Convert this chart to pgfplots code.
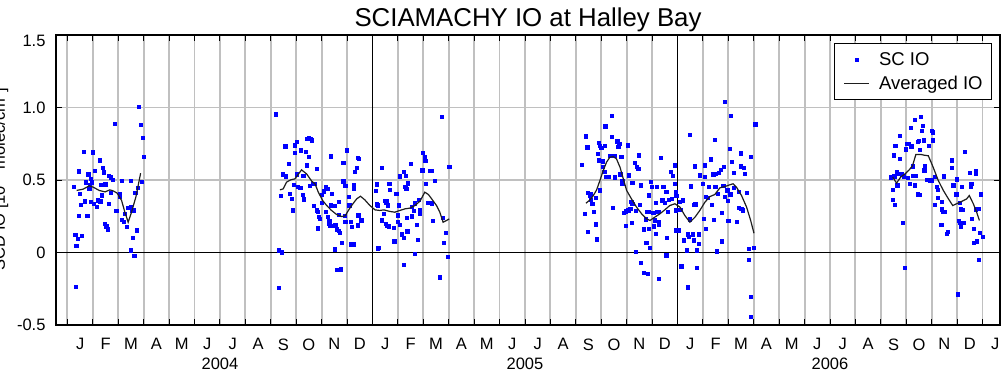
\documentclass[border=0pt]{standalone}
\usepackage{pgfplots}
\pgfplotsset{compat=1.18}
\usepackage{fontspec}
\setmainfont{Liberation Sans}
\definecolor{gridgray}{RGB}{192,192,192}
\definecolor{ptblue}{RGB}{0,0,255}
\definecolor{avgline}{RGB}{30,30,30}
\pgfplotsset{
  dotlegend/.style={legend image code/.code={\draw[##1] plot coordinates {(12.5pt,0pt)};}},
  linelegend/.style={legend image code/.code={\draw[##1] (0pt,0pt) -- (25pt,0pt);}},
}
\begin{document}
\begin{tikzpicture}
\begin{axis}[
  at={(56pt,59pt)}, anchor=south west,
  scale only axis, width=944pt, height=290pt,
  xmin=-0.45, xmax=36.69, ymin=-0.5, ymax=1.5,
  clip mode=individual,
  xtick={0,...,36}, xticklabels={},
  extra x ticks={0.5,1.5,...,36.5},
  extra x tick labels={J,F,M,A,M,J,J,A,S,O,N,D,J,F,M,A,M,J,J,A,S,O,N,D,J,F,M,A,M,J,J,A,S,O,N,D,J},
  extra x tick style={grid=none, major tick length=0pt},
  ytick={-0.5,0,0.5,1,1.5}, yticklabels={-0.5,0,0.5,1.0,\raisebox{-6pt}[\height][\depth]{1.5}},
  grid=major, major grid style={gridgray, line width=1.9pt},
  tick pos=both, tick align=inside, major tick length=6pt,
  tick style={black, line width=0.9pt},
  axis line style={black, line width=1.3pt},
  tick label style={font=\fontsize{16.5}{19}\selectfont},
  /pgf/number format/assume math mode=true,
  yticklabel style={xshift=-7pt},
  xticklabel style={yshift=-10pt},
  legend style={at={(0.9915,0.9724)}, anchor=north east, draw=black, line width=0.8pt,
    font=\fontsize{18.5}{21}\selectfont, inner xsep=9pt, inner ysep=9pt, row sep=9pt,
    nodes={inner sep=0pt},
    /tikz/every odd column/.append style={column sep=9pt}},
  legend cell align=left,
]
\draw[black, line width=1.6pt] (axis cs:12,-0.5) -- (axis cs:12,1.5);
\draw[black, line width=1.6pt] (axis cs:24,-0.5) -- (axis cs:24,1.5);
\draw[black, line width=1.6pt] (axis cs:-0.45,0) -- (axis cs:36.69,0);

\addplot[only marks, mark=square*, mark size=1.6pt, mark options={fill=ptblue, draw=ptblue, line width=0pt}, dotlegend] coordinates {
(2.81,1.005) (1.88,0.887) (2.88,0.881) (2.97,0.788) (3.02,0.66) (0.65,0.694) (0.99,0.694) (1.02,0.69) (1.27,0.634) (0.45,0.559) (1.40,0.581) (1.45,0.552) (1.07,0.563) (0.83,0.538) (1.64,0.526) (1.70,0.517) (1.80,0.499) (2.16,0.492) (2.49,0.492) (2.93,0.487) (0.92,0.506) (0.74,0.483) (0.98,0.483) (0.89,0.464) (1.32,0.464) (1.50,0.469) (0.26,0.453) (0.87,0.439) (0.49,0.402) (1.72,0.409) (2.07,0.402) (2.77,0.446) (2.68,0.409) (1.36,0.393) (0.69,0.352) (0.92,0.347) (1.05,0.333) (1.21,0.359) (1.30,0.352) (1.17,0.312) (0.54,0.326) (1.64,0.336) (2.07,0.381) (1.93,0.285) (2.37,0.306) (2.50,0.312) (2.54,0.29) (2.62,0.29) (2.26,0.267) (0.45,0.25) (0.79,0.25) (2.16,0.225) (2.24,0.209) (2.35,0.177) (1.49,0.198) (1.54,0.179) (1.61,0.159) (2.75,0.152) (2.59,0.101) (0.32,0.119) (0.56,0.115) (0.41,0.094) (0.36,0.046) (2.49,0.014) (2.64,-0.025) (0.35,-0.237)
(8.19,0.952) (14.73,0.933) (8.58,0.731) (8.96,0.738) (9.03,0.763) (9.41,0.784) (9.50,0.788) (9.58,0.782) (9.63,0.772) (9.19,0.703) (9.38,0.694) (8.95,0.687) (9.49,0.657) (10.38,0.662) (11.00,0.703) (11.42,0.651) (11.47,0.644) (8.73,0.611) (9.44,0.60) (9.83,0.575) (10.86,0.618) (11.39,0.582) (11.32,0.554) (8.48,0.538) (8.61,0.524) (9.03,0.538) (9.29,0.526) (12.39,0.584) (13.23,0.556) (13.33,0.526) (13.53,0.611) (14.00,0.687) (14.08,0.657) (14.09,0.632) (13.97,0.565) (14.26,0.561) (14.34,0.563) (13.08,0.524) (14.46,0.492) (15.03,0.588)
(8.90,0.464) (9.08,0.451) (9.17,0.446) (9.54,0.46) (9.65,0.474) (9.74,0.474) (10.18,0.451) (10.26,0.439) (10.10,0.421) (10.0,0.398) (10.42,0.405) (10.86,0.49) (10.94,0.457) (11.28,0.464) (11.27,0.439) (12.19,0.469) (12.14,0.423) (12.67,0.474) (12.70,0.432) (12.95,0.405) (13.30,0.451) (13.41,0.476) (13.34,0.439) (14.10,0.471) (8.39,0.388) (8.75,0.405) (8.83,0.368) (9.28,0.398) (9.32,0.365) (10.03,0.34) (10.37,0.324) (10.68,0.349) (11.09,0.384) (12.48,0.354) (12.52,0.34) (12.61,0.324) (12.58,0.354) (13.04,0.324) (13.67,0.338) (13.84,0.363) (14.20,0.342) (14.34,0.338)
(8.87,0.29) (9.71,0.32) (9.83,0.29) (9.87,0.278) (9.91,0.244) (10.16,0.278) (10.51,0.32) (11.10,0.324) (11.45,0.255) (11.57,0.221) (12.19,0.331) (12.22,0.324) (12.36,0.221) (12.45,0.264) (12.53,0.198) (12.58,0.184) (12.65,0.179) (12.85,0.168) (13.00,0.255) (13.02,0.209) (13.08,0.191) (13.37,0.239) (13.55,0.248) (13.63,0.287) (13.74,0.191) (13.55,0.313) (13.88,0.294) (13.87,0.269) (14.39,0.218) (14.76,0.237) (9.93,0.232) (10.26,0.244) (10.31,0.216) (10.31,0.198) (10.35,0.182) (10.67,0.26) (10.93,0.253) (10.94,0.211) (11.15,0.209) (11.21,0.175) (11.42,0.186) (10.55,0.186) (10.62,0.159) (10.67,0.147) (10.72,0.136) (9.87,0.166) (10.81,0.067) (11.17,0.055) (11.28,0.055) (10.54,0.021) (12.87,0.076) (13.17,0.124) (13.23,0.101) (13.38,0.145) (13.80,0.087) (14.89,0.136) (14.80,0.067) (12.22,0.028) (12.25,0.032) (14.98,-0.032) (8.33,0.014) (8.44,0.0) (13.66,-0.009) (10.62,-0.12) (10.77,-0.117) (13.24,-0.085) (14.65,-0.172) (8.33,-0.244)
(25.87,1.037) (26.10,0.94) (27.07,0.883) (21.41,0.94) (21.17,0.869) (20.40,0.80) (20.46,0.724) (20.92,0.756) (20.96,0.733) (21.01,0.722) (21.41,0.795) (21.16,0.733) (21.64,0.765) (21.72,0.747) (21.68,0.729) (22.04,0.738) (24.49,0.809) (25.49,0.777) (20.87,0.68) (20.90,0.634) (21.08,0.628) (21.34,0.664) (21.45,0.664) (21.54,0.664) (21.80,0.657) (22.50,0.669) (20.23,0.605) (21.08,0.588) (21.13,0.554) (21.21,0.519) (21.30,0.519) (21.55,0.517) (21.76,0.538) (22.09,0.531) (22.34,0.616) (22.40,0.588) (22.47,0.577) (23.34,0.653) (23.89,0.60) (23.75,0.554) (23.81,0.526) (24.69,0.593) (25.07,0.60) (25.32,0.641) (25.07,0.519) (24.90,0.531) (25.42,0.538) (25.51,0.542) (25.62,0.547) (25.72,0.57) (25.83,0.588) (26.06,0.713) (26.15,0.623) (26.21,0.547) (26.50,0.683) (26.51,0.593) (26.61,0.582) (26.67,0.542) (26.88,0.657)
(21.84,0.492) (21.84,0.474) (22.23,0.478) (22.57,0.462) (22.95,0.485) (22.99,0.451) (23.20,0.451) (23.45,0.451) (23.57,0.416) (23.95,0.416) (23.91,0.474) (24.52,0.455) (24.99,0.474) (25.25,0.451) (25.50,0.451) (25.59,0.405) (25.81,0.457) (25.97,0.428) (26.09,0.40) (26.22,0.444) (26.42,0.416) (26.73,0.411) (20.49,0.409) (20.56,0.393) (20.60,0.363) (20.66,0.336) (20.79,0.375) (20.61,0.405) (20.96,0.428) (22.19,0.347) (22.23,0.336) (22.54,0.329) (22.88,0.393) (23.17,0.342) (23.41,0.359) (23.52,0.342) (23.66,0.363) (23.96,0.388) (24.10,0.347) (24.21,0.359) (23.78,0.37) (24.67,0.329) (24.71,0.331) (25.12,0.382) (25.20,0.377) (25.37,0.329) (25.87,0.382) (26.00,0.354) (26.42,0.306) (26.52,0.301) (26.59,0.29)
(20.36,0.267) (20.73,0.278) (21.47,0.306) (21.91,0.274) (21.97,0.283) (22.04,0.29) (22.09,0.29) (22.15,0.301) (22.36,0.285) (22.22,0.205) (21.97,0.182) (22.82,0.278) (22.76,0.228) (22.89,0.278) (23.06,0.271) (23.20,0.278) (23.27,0.278) (23.13,0.221) (23.26,0.209) (23.28,0.191) (23.64,0.278) (23.93,0.29) (24.12,0.294) (24.50,0.228) (25.05,0.232) (25.45,0.225) (25.74,0.271) (26.01,0.216) (26.33,0.209) (20.78,0.193) (20.49,0.14) (20.84,0.09) (22.68,0.159) (22.88,0.163) (23.09,0.179) (23.17,0.129) (23.60,0.101) (23.95,0.152) (24.06,0.152) (24.41,0.124) (24.62,0.124) (24.84,0.124) (25.11,0.163) (24.27,0.083) (24.45,0.106) (24.66,0.083) (24.86,0.06) (25.74,0.076) (22.78,0.067) (22.93,0.03) (24.37,0.014) (24.78,0.014) (22.36,0.002) (25.54,0.007) (26.82,0.025) (27.02,0.03) (23.57,-0.021) (22.55,-0.074) (22.69,-0.14) (22.84,-0.147) (23.28,-0.182) (24.16,-0.097) (24.78,-0.108) (26.81,-0.05) (24.40,-0.241) (26.90,-0.308) (26.90,-0.446)
(33.59,0.933) (33.34,0.915) (33.67,0.871) (33.19,0.86) (33.62,0.837) (34.01,0.837) (34.05,0.828) (32.77,0.802) (32.58,0.736) (33.03,0.749) (33.12,0.749) (33.21,0.731) (32.99,0.71) (33.45,0.761) (33.50,0.768) (33.71,0.772) (33.91,0.733) (34.05,0.772) (32.53,0.669) (32.77,0.644) (33.53,0.708) (35.32,0.692) (34.81,0.634) (34.80,0.584) (33.75,0.593) (33.72,0.566) (33.28,0.593) (32.65,0.554) (32.71,0.543) (32.82,0.538) (32.91,0.524) (33.06,0.513) (32.39,0.517) (32.54,0.524) (32.66,0.462) (33.28,0.526) (33.37,0.529) (33.82,0.501) (33.93,0.497) (34.0,0.497) (34.14,0.52) (34.48,0.524) (35.01,0.503) (35.51,0.547) (35.74,0.561) (35.74,0.542)
(32.48,0.432) (33.15,0.474) (33.33,0.462) (34.21,0.451) (34.24,0.432) (34.86,0.462) (35.18,0.451) (35.57,0.474) (35.56,0.455) (35.95,0.40) (33.47,0.40) (33.53,0.395) (34.25,0.375) (34.42,0.347) (34.14,0.329) (32.48,0.363) (32.56,0.329) (34.98,0.40) (35.15,0.297) (35.22,0.294) (35.11,0.342) (34.41,0.297) (34.46,0.278) (34.52,0.278) (35.73,0.297) (35.86,0.301) (32.86,0.205) (35.07,0.216) (35.13,0.205) (35.15,0.179) (34.39,0.191) (34.65,0.14) (34.59,0.129) (35.26,0.202) (35.59,0.232) (35.66,0.163) (35.91,0.136) (36.03,0.106) (35.78,0.076) (35.68,0.064) (35.85,-0.053) (32.95,-0.106) (35.03,-0.29)
};
\addlegendentry{SC IO}

\addplot[avgline, line width=1.2pt, mark=none, linelegend] coordinates {
(0.36,0.428) (0.62,0.437) (0.86,0.46) (1.02,0.45) (1.25,0.428) (1.48,0.418) (1.67,0.432) (1.80,0.425) (1.96,0.409) (2.13,0.359) (2.26,0.278) (2.39,0.209) (2.52,0.278) (2.69,0.381) (2.88,0.547)
};
\addlegendentry{Averaged IO\hspace{11pt}}
\addplot[avgline, line width=1.2pt, mark=none, forget plot] coordinates {
(8.36,0.432) (8.49,0.439) (8.62,0.485) (8.78,0.501) (8.95,0.508) (9.04,0.529) (9.21,0.57) (9.41,0.542) (9.61,0.492) (9.74,0.474) (9.87,0.416) (10.04,0.359) (10.20,0.324) (10.39,0.29) (10.59,0.262) (10.79,0.248) (10.93,0.253) (11.01,0.278) (11.18,0.324) (11.38,0.37) (11.53,0.388) (11.70,0.363) (11.90,0.324) (12.10,0.294) (12.29,0.29) (12.45,0.294) (12.69,0.283) (12.88,0.278) (13.08,0.29) (13.28,0.301) (13.47,0.306) (13.67,0.324) (13.87,0.354) (14.06,0.416) (14.20,0.40) (14.33,0.37) (14.52,0.324) (14.65,0.278) (14.78,0.209) (14.92,0.221) (15.02,0.232)
};
\addplot[avgline, line width=1.2pt, mark=none, forget plot] coordinates {
(20.40,0.34) (20.56,0.363) (20.69,0.393) (20.82,0.432) (20.95,0.497) (21.08,0.565) (21.21,0.623) (21.34,0.657) (21.47,0.662) (21.60,0.646) (21.74,0.588) (21.87,0.508) (22.00,0.428) (22.19,0.37) (22.39,0.313) (22.59,0.267) (22.78,0.232) (22.92,0.221) (23.11,0.244) (23.31,0.267) (23.50,0.294) (23.70,0.324) (23.90,0.336) (24.10,0.313) (24.29,0.255) (24.49,0.209) (24.69,0.244) (24.88,0.29) (25.08,0.347) (25.28,0.386) (25.47,0.40) (25.67,0.446) (25.87,0.455) (26.06,0.467) (26.19,0.474) (26.32,0.451) (26.52,0.393) (26.72,0.313) (26.88,0.221) (27.01,0.133)
};
\addplot[avgline, line width=1.2pt, mark=none, forget plot] coordinates {
(32.47,0.52) (32.62,0.478) (32.78,0.52) (32.95,0.542) (33.12,0.57) (33.25,0.60) (33.38,0.676) (33.58,0.676) (33.71,0.671) (33.87,0.667) (34.06,0.588) (34.26,0.497) (34.46,0.428) (34.66,0.37) (34.83,0.324) (34.98,0.336) (35.18,0.352) (35.38,0.37) (35.48,0.393) (35.64,0.336) (35.77,0.278) (35.88,0.221)
};

\node[font=\fontsize{16.5}{19}\selectfont] at (axis cs:6,-0.5) [yshift=-38.5pt] {2004};
\node[font=\fontsize{16.5}{19}\selectfont] at (axis cs:18,-0.5) [yshift=-38.5pt] {2005};
\node[font=\fontsize{16.5}{19}\selectfont] at (axis cs:30,-0.5) [yshift=-38.5pt] {2006};
\end{axis}
\node[anchor=base, font=\fontsize{25.8}{28}\selectfont] at (528pt,358pt) {SCIAMACHY IO at Halley Bay};
\node[anchor=base, rotate=90, font=\fontsize{16.5}{19}\selectfont] at (5pt,205pt) {SCD IO [10$^{13}$ molec/cm$^2$]};
\pgfresetboundingbox
\path[use as bounding box] (0,0) rectangle (1006pt,384pt);
\end{tikzpicture}
\end{document}
